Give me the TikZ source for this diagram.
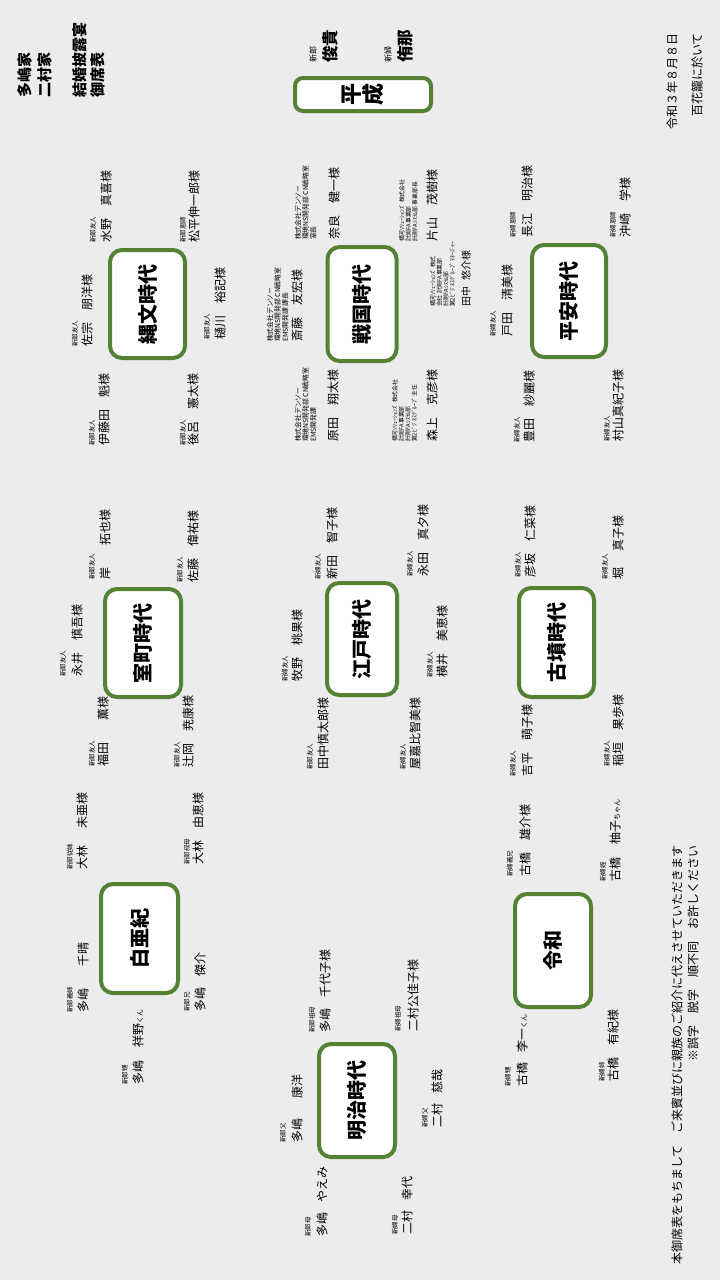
\documentclass[tikz,border=0pt]{standalone}
\usepackage{fontspec}
\setmainfont{Noto Sans CJK JP}
\definecolor{tgreen}{HTML}{548235}
\definecolor{paper}{HTML}{ECECEC}
\newcommand\gap[1]{\hspace{#1pt}}
\newcommand\sm[1]{{\fontsize{7}{8}\selectfont #1}}
\newcommand\guest[6]{\node[lbl] (#1l) at (#2,#4) {#5};\node[nm] (#1n) at (#3,#4) {#6};}
\begin{document}
\begin{tikzpicture}[x=1pt,y=-1pt,
 lbl/.style={rotate=90,anchor=west,inner sep=0pt,font=\fontsize{6.5}{7.5}\selectfont},
 nm/.style={rotate=90,anchor=west,inner sep=0pt,font=\fontsize{12}{14}\selectfont},
 co/.style={rotate=90,anchor=north west,inner sep=0pt,align=left,font=\fontsize{6.8}{7.6}\selectfont},
 cosm/.style={co,font=\fontsize{5.8}{6.5}\selectfont},
 tbl/.style={rotate=90,draw=tgreen,line width=4pt,fill=white,rounded corners=12pt,inner sep=0pt,font=\fontsize{20}{24}\selectfont\bfseries},
 ttl/.style={rotate=90,anchor=west,inner sep=0pt,font=\fontsize{15}{18}\selectfont\bfseries},
 note/.style={rotate=90,anchor=east,inner sep=0pt,font=\fontsize{12}{14}\selectfont}]
\fill[paper] (0,0) rectangle (720,1280);
\useasboundingbox (0,0) rectangle (720,1280);

% titles
\node[ttl] (fam1) at (25,98) {多嶋家};
\node[ttl] (fam2) at (45,98) {二村家};
\node[ttl] (t1) at (80,98) {結婚披露宴};
\node[ttl] (t2) at (98,98) {御席表};
\node[note] (date) at (672,33) {令和３年８月８日};
\node[note] (place) at (697,33) {百花籠に於いて};
\node[note] (end1) at (677,845) {本御席表をもちまして　ご来賓並びに親族のご紹介に代えさせていただきます};
\node[note] (end2) at (693,845) {※誤字　脱字　順不同　お許しください};

% head table
\node[tbl,minimum width=33pt,minimum height=136pt,rounded corners=8pt,align=center,font=\fontsize{22}{22}\selectfont\bfseries] (heisei) at (363,94.5) {平\\成};
\node[rotate=90,anchor=west,inner sep=0pt,font=\fontsize{8}{9}\selectfont] (groomlbl) at (313,63) {新郎};
\node[rotate=90,anchor=west,inner sep=0pt,font=\fontsize{16.5}{18}\selectfont\bfseries] (groom) at (330,63) {俊貴};
\node[rotate=90,anchor=west,inner sep=0pt,font=\fontsize{8}{9}\selectfont] (bridelbl) at (388,63) {新婦};
\node[rotate=90,anchor=west,inner sep=0pt,font=\fontsize{16.5}{18}\selectfont\bfseries] (bride) at (405,63) {侑那};

% tables
\node[tbl,minimum width=108pt,minimum height=75pt] (jomon) at (147.5,304) {縄文時代};
\node[tbl,minimum width=114pt,minimum height=69pt] (sengoku) at (362,304) {戦国時代};
\node[tbl,minimum width=112pt,minimum height=74pt] (heian) at (569,301) {平安時代};
\node[tbl,minimum width=108pt,minimum height=76pt] (muromachi) at (143,643) {室町時代};
\node[tbl,minimum width=112pt,minimum height=70pt] (edo) at (362,639) {江戸時代};
\node[tbl,minimum width=109pt,minimum height=75pt] (kofun) at (556.5,642.5) {古墳時代};
\node[tbl,minimum width=109pt,minimum height=77pt] (hakua) at (139.5,938.5) {白亜紀};
\node[tbl,minimum width=113pt,minimum height=76pt] (reiwa) at (553,950.5) {令和};
\node[tbl,minimum width=113pt,minimum height=76pt] (meiji) at (357,1100.5) {明治時代};

% 縄文時代
\guest{ja}{93}{106}{243}{新郎友人}{水野　真喜様}
\guest{jb}{183}{194}{243}{新郎恩師}{松平伸一郎様}
\guest{jc}{75}{87}{347}{新郎友人}{佐宗　朋洋様}
\guest{jd}{207}{220}{340}{新郎友人}{樋川　裕記様}
\guest{je}{92}{104}{446}{新郎友人}{伊藤田　魁様}
\guest{jf}{183}{193}{446}{新郎友人}{後呂　憲太様}

% 戦国時代
\node[co] (sal) at (294.6,240) {株式会社デンソー\\環境NS開発部 CN戦略室\\室長};
\node[nm] (san) at (334,240) {奈良　健一様};
\node[co] (sbl) at (266.6,342) {株式会社デンソー\\環境NS開発部 CN戦略室\\EMS開発課 課長};
\node[nm] (sbn) at (297,342) {斎藤　友宏様};
\node[co] (scl) at (294.6,442) {株式会社デンソー\\環境NS開発部 CN戦略室\\EMS開発課};
\node[nm] (scn) at (333,442) {原田　翔太様};
\node[cosm] (sdl) at (399,242) {横河ｿﾘｭｰｼｮﾝｽﾞ 株式会社\\計測FA事業部\\計測FAｼｽﾃﾑ部 事業部長};
\node[nm] (sdn) at (432,242) {片山　茂樹様};
\node[cosm] (sel) at (430,307) {横河ｿﾘｭｰｼｮﾝｽﾞ 株式\\会社 計測FA事業部\\計測FAｼｽﾃﾑ部\\第2ﾋﾞｼﾞﾈｽｸﾞﾙｰﾌﾟ ﾏﾈｰｼﾞｬｰ};
\node[nm,font=\fontsize{10}{12}\selectfont] (sen) at (466,307) {田中\gap{6}悠介様};
\node[cosm] (sfl) at (392,442) {横河ｿﾘｭｰｼｮﾝｽﾞ 株式会社\\計測FA事業部\\計測FAｼｽﾃﾑ部\\第2ﾋﾞｼﾞﾈｽｸﾞﾙｰﾌﾟ 主任};
\node[nm] (sfn) at (432,442) {森上　克彦様};

% 平安時代
\guest{ha}{513}{527}{238}{新婦恩師}{長江　明治様}
\guest{hb}{613}{625}{238}{新婦恩師}{沖崎　学様}
\guest{hc}{493}{507}{337}{新婦友人}{戸田　清美様}
\guest{hd}{517}{529}{443}{新婦友人}{豊田　紗麗様}
\guest{he}{607}{618}{442}{新婦友人}{村山真紀子様}

% 室町時代
\guest{ma}{92}{105}{580}{新郎友人}{岸\gap{22}拓也様}
\guest{mb}{180}{193}{583}{新郎友人}{佐藤　偉祐様}
\guest{mc}{63}{77}{677}{新郎友人}{永井　慎吾様}
\guest{md}{92}{103}{767}{新郎友人}{福田\gap{22}薫様}
\guest{me}{177}{188}{768}{新郎友人}{辻岡　尭康様}

% 江戸時代
\guest{ea}{318}{332}{580}{新婦友人}{新田　智子様}
\guest{eb}{410}{423}{577}{新婦友人}{永田　真夕様}
\guest{ec}{285}{297}{682}{新婦友人}{牧野　桃果様}
\guest{ed}{430}{442}{678}{新婦友人}{横井　美恵様}
\guest{ee}{310}{323}{770}{新郎友人}{田中慎太郎様}
\guest{ef}{403}{415}{770}{新婦友人}{屋嘉比智美様}

% 古墳時代
\guest{ka}{518}{530}{578}{新婦友人}{彦坂　仁菜様}
\guest{kb}{605}{618}{580}{新婦友人}{堀\gap{16}真子様}
\guest{kc}{513}{527}{777}{新婦友人}{吉平　萌子様}
\guest{kd}{607}{618}{767}{新婦友人}{稲垣　果歩様}

% 白亜紀
\guest{wa}{70}{82}{870}{新郎従妹}{大林\gap{17}未亜様}
\guest{wb}{187}{198}{865}{新郎叔母}{大林　由恵様}
\guest{wc}{70}{83}{1013}{新郎義姉}{多嶋\gap{22}千晴}
\guest{wd}{187}{200}{1012}{新郎兄}{多嶋\gap{11}傑介}
\guest{we}{125}{138}{1085}{新郎甥}{多嶋\gap{13}祥野\sm{くん}}

% 令和
\guest{ra}{510}{525}{877}{新婦義兄}{古橋　雄介様}
\guest{rb}{603}{615}{882}{新婦姪}{古橋\gap{13}柚子\sm{ちゃん}}
\guest{rc}{508}{522}{1087}{新婦甥}{古橋\gap{10}李一\sm{くん}}
\guest{rd}{602}{613}{1082}{新婦姉}{古橋　有紀様}

% 明治時代
\guest{na}{312}{325}{1033}{新郎祖母}{多嶋\gap{11}千代子様}
\guest{nb}{398}{413}{1032}{新婦祖母}{二村公佳子様}
\guest{nc}{283}{297}{1143}{新郎父}{多嶋\gap{20}康洋}
\guest{nd}{425}{437}{1128}{新婦父}{二村\gap{10}慈哉}
\guest{ne}{308}{322}{1237}{新郎母}{多嶋\gap{10}やえみ}
\guest{nf}{395}{407}{1235}{新婦母}{二村\gap{10}幸代}
\end{tikzpicture}
\end{document}
